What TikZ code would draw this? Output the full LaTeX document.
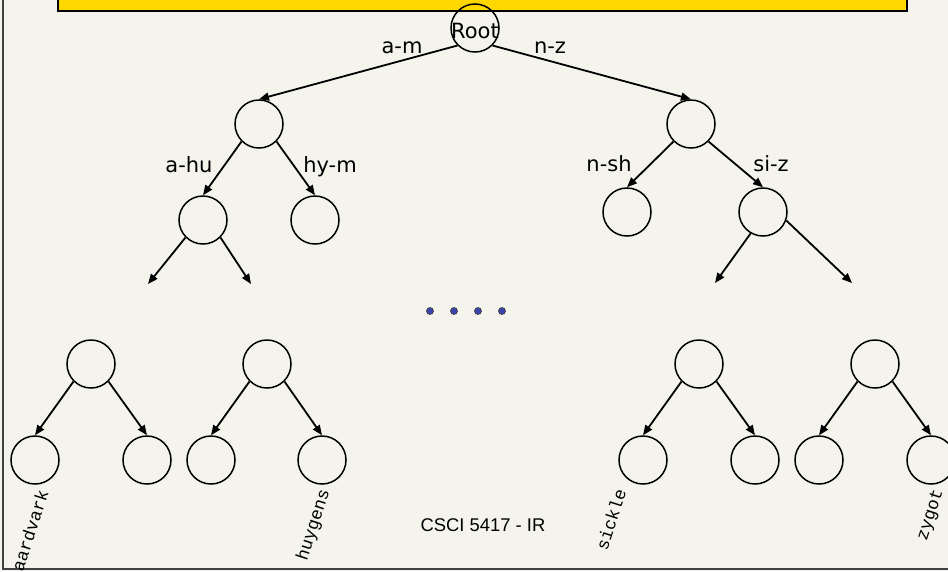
\documentclass[tikz,border=0pt]{standalone}
\usepackage{fontspec}
\setmainfont{DejaVu Sans}
\newfontfamily\arialfont{Liberation Sans}
\newfontfamily\courfont{Liberation Mono}
\usetikzlibrary{arrows.meta}
\definecolor{bgc}{HTML}{F4F3EC}
\definecolor{titleyellow}{HTML}{FFD700}
\definecolor{dotblue}{HTML}{3C46A8}
\definecolor{framegray}{HTML}{404040}
\begin{document}
\begin{tikzpicture}[x=1pt,y=-1pt,
  nd/.style={circle,draw,line width=1.5pt,minimum size=48pt,inner sep=0pt},
  edge/.style={line width=1.8pt,-{Triangle[length=10pt,width=8pt]}},
  lbl/.style={anchor=base,inner sep=0pt,font=\fontsize{21}{21}\selectfont},
  leaf/.style={font=\courfont\fontsize{17.5}{17.5}\selectfont,rotate=72,inner sep=0pt},
  dotc/.style={circle,fill=dotblue,draw=black!80,line width=0.6pt,minimum size=7pt,inner sep=0pt}]
\useasboundingbox (0,0) rectangle (948,571);
\begin{scope}
  \clip (0,0) rectangle (948,571);
  \fill[bgc] (0,0) rectangle (948,571);
  \draw[framegray,line width=1.6pt] (3,-5) -- (3,569) -- (960,569);
  \draw[fill=titleyellow,line width=1.4pt] (58,-10) rectangle (907,11);
\end{scope}

% root
\node[nd] (root) at (475,28) {};
\node[lbl] (roottxt) at (475,38) {Root};

% level 1
\node[nd] (L) at (259,124) {};
\node[nd] (R) at (691,124) {};
% level 2
\node[nd] (LL) at (203,220) {};
\node[nd] (LR) at (315,220) {};
\node[nd] (RL) at (627,212) {};
\node[nd] (RR) at (763,212) {};

\draw[edge] (root.225) -- (L.north);
\draw[edge] (root.-45) -- (R.north);
\draw[edge] (L.225) -- (LL.north);
\draw[edge] (L.-45) -- (LR.north);
\draw[edge] (R.225) -- (RL.north);
\draw[edge] (R.-45) -- (RR.north);

\coordinate (d1) at (148,284);
\coordinate (d2) at (251,284);
\coordinate (d3) at (715,283);
\coordinate (d4) at (852,283);
\draw[edge] (LL.225) -- (d1);
\draw[edge] (LL.-45) -- (d2);
\draw[edge] (RR.240) -- (d3);
\draw[edge] (RR.-20) -- (d4);

\node[lbl] (lam) at (402,53) {a-m};
\node[lbl] (lnz) at (550,53) {n-z};
\node[lbl] (lahu) at (189,172) {a-hu};
\node[lbl] (lhym) at (330,172) {hy-m};
\node[lbl] (lnsh) at (609,171) {n-sh};
\node[lbl] (lsiz) at (771,171) {si-z};

% dots
\node[dotc] (dt1) at (430,311) {};
\node[dotc] (dt2) at (454,311) {};
\node[dotc] (dt3) at (478,311) {};
\node[dotc] (dt4) at (502,311) {};

% bottom subtrees
\node[nd] (P1) at (91,364) {};
\node[nd] (P1a) at (35,460) {};
\node[nd] (P1b) at (147,460) {};
\node[nd] (P2) at (267,364) {};
\node[nd] (P2a) at (211,460) {};
\node[nd] (P2b) at (322,460) {};
\node[nd] (P3) at (699,364) {};
\node[nd] (P3a) at (643,460) {};
\node[nd] (P3b) at (755,460) {};
\node[nd] (P4) at (875,364) {};
\node[nd] (P4a) at (819,460) {};
\node[nd] (P4b) at (931,460) {};
\foreach \p in {P1,P2,P3,P4}{
  \draw[edge] (\p.225) -- (\p a.north);
  \draw[edge] (\p.-45) -- (\p b.north);
}

\node[leaf] (w1) at (30,531) {aardvark};
\node[leaf] (w2) at (314,525) {huygens};
\node[leaf] (w3) at (611,520) {sickle};
\node[leaf] (w4) at (931,515) {zygot};

\node[anchor=base,inner sep=0pt,font=\arialfont\fontsize{18.4}{18.4}\selectfont] (foot) at (483,531) {CSCI 5417 - IR};
\end{tikzpicture}
\end{document}
